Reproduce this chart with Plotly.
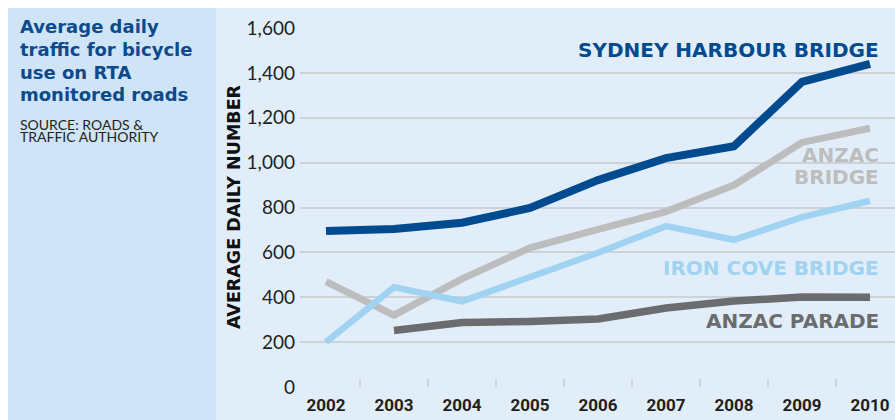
import plotly.graph_objects as go

W, H = 895, 420
EDGE = 8  # white border strip along the top and left edges

years = [2002, 2003, 2004, 2005, 2006, 2007, 2008, 2009, 2010]
sydney_harbour_bridge = [695, 704, 732, 798, 922, 1020, 1073, 1360, 1440]
anzac_bridge = [470, 320, 482, 620, 703, 782, 900, 1090, 1153]
iron_cove_bridge = [200, 445, 382, 490, 598, 717, 656, 757, 830]
anzac_parade = [None, 252, 287, 292, 303, 352, 383, 401, 400]

y_ticks = [0, 200, 400, 600, 800, 1000, 1200, 1400, 1600]
y_tick_text = ["0", "200", "400", "600", "800", "1,000", "1,200", "1,400", "1,600"]

DARK_BLUE = "#004a8f"
LIGHT_GREY = "#bdbdbd"
LIGHT_BLUE = "#9fd3f1"
DARK_GREY = "#6b6c6e"
PANEL = "#cfe4f6"
PLOT_BG = "#e1eef9"
GRID = "#cdd2d6"


# pixel -> paper coords
def px(x):
    return x / W


def py(y):
    return 1 - y / H


series = [
    ("Anzac Parade", anzac_parade, DARK_GREY, 7.5),
    ("Anzac Bridge", anzac_bridge, LIGHT_GREY, 7),
    ("Iron Cove Bridge", iron_cove_bridge, LIGHT_BLUE, 6.5),
    ("Sydney Harbour Bridge", sydney_harbour_bridge, DARK_BLUE, 8),
]

fig = go.Figure()
for name, vals, color, width in series:
    fig.add_trace(
        go.Scatter(
            x=years,
            y=vals,
            name=name,
            mode="lines",
            line=dict(color=color, width=width),
            connectgaps=False,
            showlegend=False,
        )
    )

fig.update_layout(
    width=W,
    height=H,
    margin=dict(l=0, r=0, t=0, b=0, pad=0, autoexpand=False),
    paper_bgcolor=PLOT_BG,
    plot_bgcolor=PLOT_BG,
    shapes=[
        dict(type="rect", xref="paper", yref="paper", x0=px(EDGE), x1=px(216), y0=0, y1=1,
             fillcolor=PANEL, line_width=0, layer="below"),
        dict(type="rect", xref="paper", yref="paper", x0=0, x1=1, y0=py(EDGE), y1=1,
             fillcolor="white", line_width=0, layer="below"),
        dict(type="rect", xref="paper", yref="paper", x0=0, x1=px(EDGE), y0=0, y1=1,
             fillcolor="white", line_width=0, layer="below"),
    ],
)

# 2002 sits at x=326, 68px per year
x0_px, x_domain_px = 326, 300
fig.update_xaxes(
    domain=[px(x_domain_px), 1],
    range=[2002 - (x0_px - x_domain_px) / 68, 2002 + (W - x0_px) / 68],
    tickvals=years,
    ticktext=[str(y) for y in years],
    ticks="",
    showgrid=False,
    zeroline=False,
    showline=False,
    automargin=False,
    tickfont=dict(family="Roboto", size=17, color="#231f20", weight="bold"),
    ticklabelstandoff=6,
    minor=dict(
        tickvals=[y + 0.5 for y in years[:-1]],
        ticks="inside",
        ticklen=8,
        tickwidth=2,
        tickcolor=GRID,
        showgrid=False,
    ),
)
fig.update_yaxes(
    domain=[py(387), py(28)],
    range=[0, 1600],
    tickvals=y_ticks,
    ticktext=y_tick_text,
    showgrid=True,
    gridcolor=GRID,
    gridwidth=2,
    zeroline=False,
    showline=False,
    automargin=False,
    ticks="",
    tickfont=dict(family="Lato", size=19, color="#231f20"),
    ticklabelstandoff=4,
)

LABEL_FONT = "DejaVu Sans"
labels = [
    ("SYDNEY HARBOUR BRIDGE", 50, DARK_BLUE),
    ("ANZAC", 155, LIGHT_GREY),
    ("BRIDGE", 177, LIGHT_GREY),
    ("IRON COVE BRIDGE", 268, LIGHT_BLUE),
    ("ANZAC PARADE", 321, DARK_GREY),
]
for text, y, color in labels:
    fig.add_annotation(
        text=text, x=px(881), y=py(y), xref="paper", yref="paper",
        xanchor="right", yanchor="middle", showarrow=False,
        font=dict(family=LABEL_FONT, size=20, color=color, weight="bold"),
    )

fig.add_annotation(
    text="AVERAGE DAILY NUMBER", x=px(234), y=py(207), xref="paper", yref="paper",
    textangle=-90, showarrow=False, xanchor="center", yanchor="middle",
    font=dict(family=LABEL_FONT, size=17.5, color="#111111", weight="bold"),
)

title_lines = ["Average daily", "traffic for bicycle", "use on RTA", "monitored roads"]
for i, line in enumerate(title_lines):
    fig.add_annotation(
        text=line, x=px(18), y=py(26 + 23 * i), xref="paper", yref="paper",
        xanchor="left", yanchor="middle", showarrow=False,
        font=dict(family="DejaVu Sans", size=18, color="#0b4a8b", weight="bold"),
    )

for i, line in enumerate(["SOURCE: ROADS &", "TRAFFIC AUTHORITY"]):
    fig.add_annotation(
        text=line, x=px(18), y=py(124 + 12.5 * i), xref="paper", yref="paper",
        xanchor="left", yanchor="middle", showarrow=False,
        font=dict(family="Lato", size=14, color="#231f20"),
    )

# figure fills the window exactly: drop the page margin and any scrollbars
page_js = (
    "document.body.style.margin = '0';"
    "document.body.style.overflow = 'hidden';"
    "document.documentElement.style.overflow = 'hidden';"
)
fig.write_html("out.html", post_script=page_js, config={"displayModeBar": False})
